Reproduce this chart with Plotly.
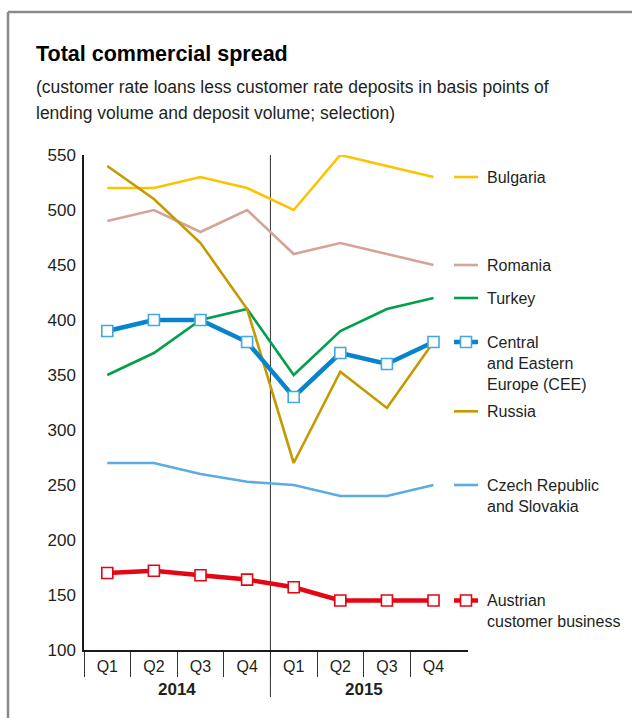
import plotly.graph_objects as go

# ---- data -------------------------------------------------------------
quarters = ["Q1", "Q2", "Q3", "Q4", "Q1", "Q2", "Q3", "Q4"]
years = ["2014", "2015"]

bulgaria = [520, 520, 530, 520, 500, 550, 540, 530]
romania = [490, 500, 480, 500, 460, 470, 460, 450]
turkey = [350, 370, 400, 410, 350, 390, 410, 420]
cee = [390, 400, 400, 380, 330, 370, 360, 380]
russia = [540, 510, 470, 410, 270, 353, 320, 380]
czech_slovakia = [270, 270, 260, 253, 250, 240, 240, 250]
austria = [170, 172, 168, 164, 157, 145, 145, 145]

y_ticks = [100, 150, 200, 250, 300, 350, 400, 450, 500, 550]

# ---- styling ------------------------------------------------------------
FONT = "Liberation Sans, Arial, sans-serif"
TEXT = "#231f20"

series = [
    # name, values, colour, width, marker border (None = no markers), label y override
    ("Bulgaria", bulgaria, "#fdc300", 2.6, None, None),
    ("Romania", romania, "#d5a398", 2.6, None, None),
    ("Turkey", turkey, "#00a14b", 2.6, None, None),
    ("Russia", russia, "#c39a00", 2.6, None, 317),
    ("Czech Republic<br>and Slovakia", czech_slovakia, "#5aace2", 2.6, None, None),
    ("Central<br>and Eastern<br>Europe (CEE)", cee, "#0784cc", 4.5, "#44a8e0", None),
    ("Austrian<br>customer business", austria, "#e30613", 4.5, "#e30613", None),
]

W, H = 632, 718
L, R, T, B = 84, 164, 155, 68
PW, PH = W - L - R, H - T - B


def px_x(px):
    return (px - L) / PW


def px_y(py):
    return (H - B - py) / PH


x_idx = list(range(len(quarters)))

fig = go.Figure()

for name, vals, color, width, mborder, _ in series:
    kw = dict(x=x_idx, y=vals, mode="lines", line=dict(color=color, width=width),
              hoverinfo="skip", showlegend=False, cliponaxis=False)
    if mborder:
        kw["mode"] = "lines+markers"
        kw["marker"] = dict(symbol="square", size=11, color="white",
                            line=dict(color=mborder, width=1.6))
    fig.add_trace(go.Scatter(**kw))

shapes = []
annotations = []

# outer frame (left and top edges)
frame = dict(type="line", xref="paper", yref="paper",
             line=dict(color="#8a8a8a", width=2.5))
shapes.append({**frame, "x0": px_x(8), "x1": px_x(8), "y0": px_y(H + 5), "y1": px_y(12)})
shapes.append({**frame, "x0": px_x(8), "x1": px_x(W + 5), "y0": px_y(12), "y1": px_y(12)})

# divider between the two years
split = len(quarters) // 2 - 0.5
shapes.append(dict(type="line", xref="x", yref="paper", x0=split, x1=split,
                   y0=px_y(697), y1=1, line=dict(color="#333333", width=1),
                   layer="below"))

# year labels centred under their quarters
for k, yr in enumerate(years):
    centre = sum(x_idx[4 * k:4 * k + 4]) / 4
    annotations.append(dict(x=centre, xref="x", y=px_y(689), yref="paper",
                            text=f"<b>{yr}</b>", showarrow=False,
                            font=dict(family=FONT, size=17, color=TEXT),
                            xanchor="center", yanchor="middle"))

# direct labels with line swatches on the right
for name, vals, color, width, mborder, override in series:
    ly = override if override is not None else vals[-1]
    shapes.append(dict(type="line", xref="paper", yref="y",
                       x0=px_x(454), x1=px_x(478), y0=ly, y1=ly,
                       line=dict(color=color, width=width)))
    if mborder:
        shapes.append(dict(type="rect", xref="paper", yref="y",
                           xsizemode="pixel", ysizemode="pixel",
                           xanchor=px_x(466), yanchor=ly,
                           x0=-5.5, x1=5.5, y0=-5.5, y1=5.5,
                           fillcolor="white", line=dict(color=mborder, width=1.6)))
    multi = "<br>" in name
    annotations.append(dict(x=px_x(485), xref="paper", y=ly, yref="y",
                            text=name, showarrow=False, align="left",
                            xanchor="left", yanchor="top" if multi else "middle",
                            yshift=10.5 if multi else 0,
                            font=dict(family=FONT, size=16, color=TEXT)))

# title and subtitle
annotations.append(dict(x=px_x(34), xref="paper", y=px_y(54), yref="paper",
                        text="<b>Total commercial spread</b>", showarrow=False,
                        xanchor="left", yanchor="middle",
                        font=dict(family=FONT, size=21.5, color="#000000")))
for text, py in [("(customer rate loans less customer rate deposits in basis points of", 87),
                 ("lending volume and deposit volume; selection)", 113)]:
    annotations.append(dict(x=px_x(34), xref="paper", y=px_y(py), yref="paper",
                            text=text, showarrow=False, xanchor="left",
                            yanchor="middle",
                            font=dict(family=FONT, size=17.5, color=TEXT)))

fig.update_layout(
    width=W, height=H,
    margin=dict(l=L, r=R, t=T, b=B, pad=0),
    paper_bgcolor="white", plot_bgcolor="white",
    showlegend=False,
    shapes=shapes, annotations=annotations,
    xaxis=dict(range=[-0.5, 7.74], tickmode="array", tickvals=x_idx,
               ticktext=quarters, ticks="", showgrid=False, zeroline=False,
               showline=True, linecolor="#1a1a1a", linewidth=1.5,
               tickfont=dict(family=FONT, size=16, color=TEXT),
               ticklabelstandoff=1,
               minor=dict(tickmode="array", tickvals=[i - 0.5 for i in x_idx],
                          ticks="outside", ticklen=25, tickwidth=1,
                          tickcolor="#333333", showgrid=False)),
    yaxis=dict(range=[100, 550], tickmode="array", tickvals=y_ticks,
               ticks="", showgrid=False, zeroline=False,
               showline=True, linecolor="#1a1a1a", linewidth=1.5,
               tickfont=dict(family=FONT, size=17, color=TEXT),
               ticklabelstandoff=3),
)

fig.write_html("out.html")
